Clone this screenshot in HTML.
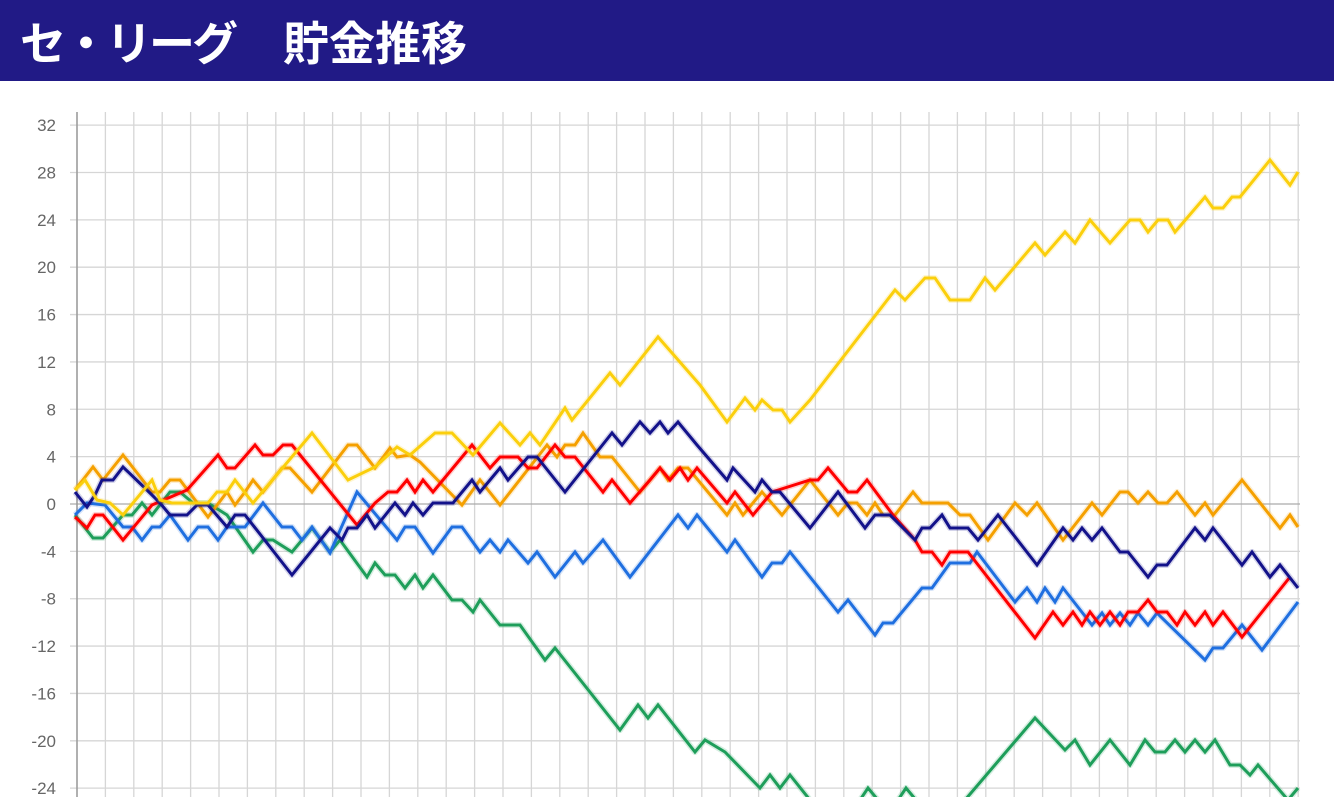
<!DOCTYPE html>
<html><head><meta charset="utf-8"><style>
body{margin:0;width:1334px;height:797px;overflow:hidden;background:#fff;font-family:"Liberation Sans","Noto Sans CJK JP",sans-serif}
.hd{position:absolute;left:0;top:0;width:1334px;height:81px;background:#211a86}
.t{position:absolute;top:0;color:#fff;font-weight:bold;font-size:46px;line-height:82px;font-family:"Noto Sans CJK JP","Liberation Sans",sans-serif;white-space:nowrap}
svg{position:absolute;left:0;top:0}
</style></head><body>
<div class="hd"><span class="t" style="left:20px;letter-spacing:-3px">セ・リーグ</span><span class="t" style="left:283px">貯金推移</span></div>
<svg width="1334" height="797" id="s"></svg>
<script>
const s=document.getElementById('s');let h='';
for(let i=0;i<=43;i++){const x=77+i*28.4;h+=`<line x1="${x}" y1="112" x2="${x}" y2="797" stroke="#d6d6d6" stroke-width="1.3"/>`;}
for(let v=32;v>=-24;v-=4){const y=504-v*11.84;h+=`<line x1="70" y1="${y}" x2="1300" y2="${y}" stroke="${v==0?'#aaa':'#d6d6d6'}" stroke-width="1.3"/><text x="56" y="${y+6}" text-anchor="end" font-size="17" fill="#666" font-family="Liberation Sans, sans-serif">${v}</text>`;}
h+=`<line x1="77" y1="112" x2="77" y2="797" stroke="#999" stroke-width="1.5"/>`;
const S={
"#1e9e5a":[[75,515],[93,538],[103,538],[123,515],[132,515],[142,503],[152,515],[170,492],[180,492],[193,503],[208,503],[227,515],[253,552],[263,540],[273,540],[292,552],[302,540],[312,528],[330,552],[340,540],[367,577],[375,563],[385,575],[395,575],[405,588],[415,575],[423,588],[433,575],[452,600],[462,600],[473,612],[480,600],[500,625],[520,625],[545,660],[555,648],[620,730],[638,705],[648,718],[658,705],[695,752],[705,740],[725,752],[760,788],[770,775],[780,788],[790,775],[810,800],[860,800],[868,788],[878,800],[898,800],[906,788],[916,800],[965,800],[1035,718],[1065,750],[1075,740],[1090,765],[1110,740],[1130,765],[1145,740],[1155,752],[1165,752],[1175,740],[1185,752],[1195,740],[1205,752],[1215,740],[1230,765],[1240,765],[1250,775],[1258,765],[1288,800],[1298,788]],
"#1f6fe0":[[75,515],[87,503],[105,505],[123,527],[132,527],[142,540],[152,527],[160,527],[170,515],[188,540],[198,527],[208,527],[218,540],[227,527],[245,527],[263,503],[282,527],[292,527],[302,540],[312,527],[330,553],[357,492],[397,540],[405,527],[415,527],[433,553],[452,527],[462,527],[480,552],[490,540],[500,552],[508,540],[528,563],[537,552],[555,577],[575,552],[583,563],[603,540],[630,577],[678,515],[688,528],[697,515],[727,552],[735,540],[762,577],[772,563],[782,563],[790,552],[838,612],[848,600],[875,635],[883,623],[893,623],[922,588],[932,588],[950,563],[970,563],[977,552],[1015,602],[1027,588],[1037,602],[1045,588],[1055,602],[1063,588],[1092,625],[1102,613],[1110,625],[1120,613],[1130,625],[1138,613],[1148,625],[1157,613],[1205,660],[1213,648],[1223,648],[1242,625],[1262,650],[1298,602]],
"#f5a000":[[75,490],[93,467],[103,480],[123,455],[152,492],[160,492],[170,480],[180,480],[208,517],[227,492],[235,505],[245,492],[253,480],[263,492],[282,468],[290,468],[312,492],[348,445],[357,445],[375,468],[390,448],[397,457],[410,455],[420,462],[462,505],[480,480],[500,505],[547,445],[557,457],[565,445],[575,445],[583,433],[600,457],[612,457],[640,492],[660,468],[668,480],[678,468],[688,468],[727,515],[735,503],[743,515],[762,492],[782,515],[810,480],[838,515],[848,503],[857,503],[867,515],[875,503],[883,515],[895,515],[913,492],[922,503],[948,503],[960,515],[970,515],[988,540],[1015,503],[1027,515],[1037,503],[1063,540],[1092,503],[1102,515],[1120,492],[1128,492],[1138,503],[1148,492],[1158,503],[1167,503],[1177,492],[1195,515],[1205,503],[1213,515],[1242,480],[1280,528],[1290,515],[1298,527]],
"#f00":[[75,517],[87,528],[95,515],[103,515],[123,540],[152,505],[187,490],[218,455],[227,468],[235,468],[255,445],[263,455],[273,455],[283,445],[292,445],[357,525],[375,503],[388,492],[397,492],[407,480],[415,492],[423,480],[433,492],[472,445],[490,468],[500,457],[518,457],[528,468],[537,468],[555,445],[565,457],[575,457],[603,492],[612,480],[630,503],[650,480],[660,468],[670,480],[680,468],[688,480],[697,468],[727,503],[735,492],[753,515],[772,492],[810,480],[818,480],[828,468],[848,492],[857,492],[867,480],[893,515],[915,540],[922,552],[932,552],[942,565],[950,552],[968,552],[1035,638],[1053,612],[1063,625],[1073,612],[1082,625],[1090,612],[1100,625],[1110,612],[1120,625],[1128,612],[1138,612],[1148,600],[1157,612],[1167,612],[1177,625],[1185,612],[1195,625],[1205,612],[1213,625],[1223,612],[1242,637],[1290,577]],
"#13128a":[[75,492],[87,507],[95,495],[102,480],[113,480],[123,467],[150,493],[160,503],[170,515],[187,515],[197,505],[208,505],[227,527],[235,515],[245,515],[292,575],[330,528],[342,540],[348,528],[357,528],[367,515],[375,528],[395,503],[405,515],[413,503],[423,515],[433,503],[453,503],[472,480],[480,492],[500,468],[508,480],[528,457],[537,457],[565,492],[612,433],[622,445],[640,422],[650,433],[660,422],[668,433],[678,422],[697,445],[727,480],[733,468],[755,492],[762,480],[772,492],[780,492],[810,528],[838,492],[865,528],[875,515],[890,515],[915,540],[922,528],[930,528],[942,515],[950,528],[968,528],[978,540],[998,515],[1037,565],[1063,528],[1073,540],[1082,528],[1092,540],[1102,528],[1120,552],[1128,552],[1148,577],[1157,565],[1167,565],[1195,528],[1205,540],[1213,528],[1242,565],[1252,552],[1270,577],[1280,565],[1298,588]],
"#fbcf0c":[[75,490],[85,480],[97,500],[110,503],[123,515],[152,480],[160,500],[172,503],[208,503],[217,492],[227,492],[235,480],[253,503],[312,433],[348,480],[375,467],[397,447],[410,455],[435,433],[452,433],[473,455],[500,423],[520,445],[530,433],[540,445],[565,408],[572,420],[610,373],[620,385],[658,337],[700,385],[727,422],[745,398],[755,410],[762,400],[773,410],[782,410],[790,422],[810,400],[895,290],[905,300],[925,278],[935,278],[950,300],[970,300],[985,278],[995,290],[1035,243],[1045,255],[1065,232],[1075,243],[1090,220],[1110,243],[1130,220],[1140,220],[1148,232],[1158,220],[1168,220],[1175,232],[1205,197],[1213,208],[1223,208],[1232,197],[1240,197],[1270,160],[1290,185],[1298,172]]
};
for(const c in S){const p=S[c].map(a=>a.join(',')).join(' ');h+=`<polyline points="${p}" fill="none" stroke="${c}" stroke-opacity="0.18" stroke-width="6" stroke-linejoin="round"/><polyline points="${p}" fill="none" stroke="${c}" stroke-width="3" stroke-linejoin="miter"/>`;}
s.innerHTML=h;
</script>
</body></html>
